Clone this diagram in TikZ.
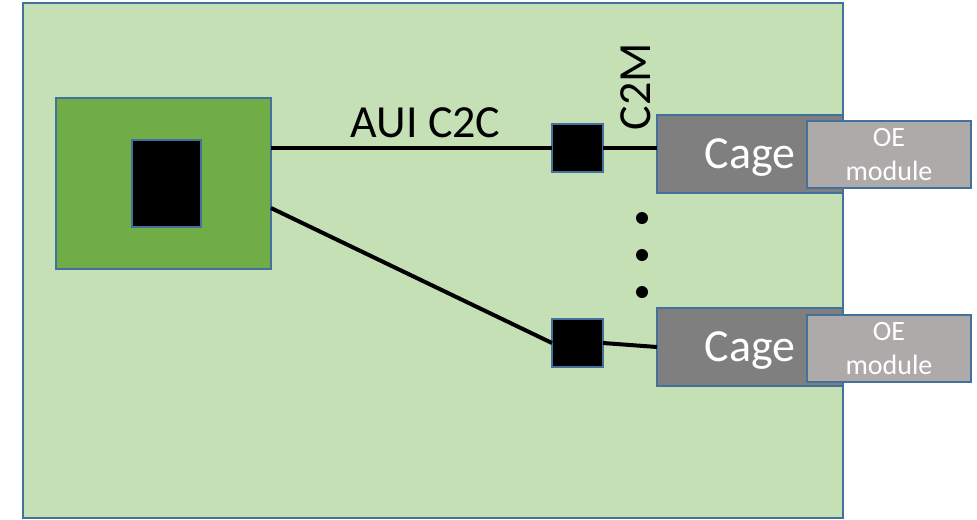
\documentclass[tikz,border=0pt]{standalone}
\usepackage{fontspec}
\setmainfont{Carlito}
\usetikzlibrary{calc,positioning}
\definecolor{pcbGreen}{HTML}{C5E0B4}
\definecolor{asicGreen}{HTML}{70AD47}
\definecolor{edgeBlue}{HTML}{41719C}
\definecolor{cageGrey}{HTML}{7F7F7F}
\definecolor{oeGrey}{HTML}{AEAAAA}
\newlength{\px}
\setlength{\px}{0.75pt}
\tikzset{
  blk/.style    = {draw=edgeBlue, line width=1.5pt, inner sep=0, outer sep=0},
  board/.style  = {blk, fill=pcbGreen, minimum width=820\px, minimum height=515\px},
  asic/.style   = {blk, fill=asicGreen, minimum width=215\px, minimum height=171\px},
  die/.style    = {blk, fill=black, minimum width=69\px, minimum height=87\px},
  retimer/.style= {blk, fill=black, minimum width=51\px, minimum height=48\px},
  cage/.style   = {blk, fill=cageGrey, minimum width=186\px, minimum height=78\px,
                   text=white, text depth=0pt, font=\fontsize{34.5}{40}\selectfont},
  oe/.style     = {blk, fill=oeGrey, minimum width=164\px, minimum height=67\px,
                   text=white, align=center, font=\fontsize{21}{25}\selectfont},
  wire/.style   = {line width=3pt, color=black},
  lbl/.style    = {font=\fontsize{34.5}{40}\selectfont, inner sep=0},
}

\begin{document}
\begin{tikzpicture}[x=0.75pt, y=-0.75pt]
\useasboundingbox (0,0) rectangle (977,519);

% board and host asic
\node[board] (pcb) at (433,260.5) {};
\node[asic] (asic) at (163.5,183.5) {};
\node[die] (die) at (166.5,183.5) {};

% retimers
\node[retimer] (ret1) at (577.5,148) {};
\node[retimer] (ret2) at (577.5,343) {};

% cages with the optical modules
\node[cage] (cage1) at (750,154) {Cage};
\node[oe] (oe1) at (889,154.5) {OE\\module};
\node[cage] (cage2) at (750,347) {Cage};
\node[oe] (oe2) at (889,348.5) {OE\\module};

% links
\coordinate (a2) at (271,208);
\draw[wire] (asic.east |- ret1.west) -- (ret1.west);
\draw[wire] (ret1.east) -- (ret1.east -| cage1.west);
\draw[wire] (a2) -- (ret2.west);
\draw[wire] (ret2.east) -- (cage2.west);

\node[lbl, anchor=base] (c2c) at (425.5,137) {AUI C2C};
\node[lbl, anchor=base, rotate=90] (c2m) at (650,86.5) {C2M};

% more cages in between
\foreach \yy in {218,255,292}
  \fill (642,\yy) circle (4.5pt);

\end{tikzpicture}
\end{document}
